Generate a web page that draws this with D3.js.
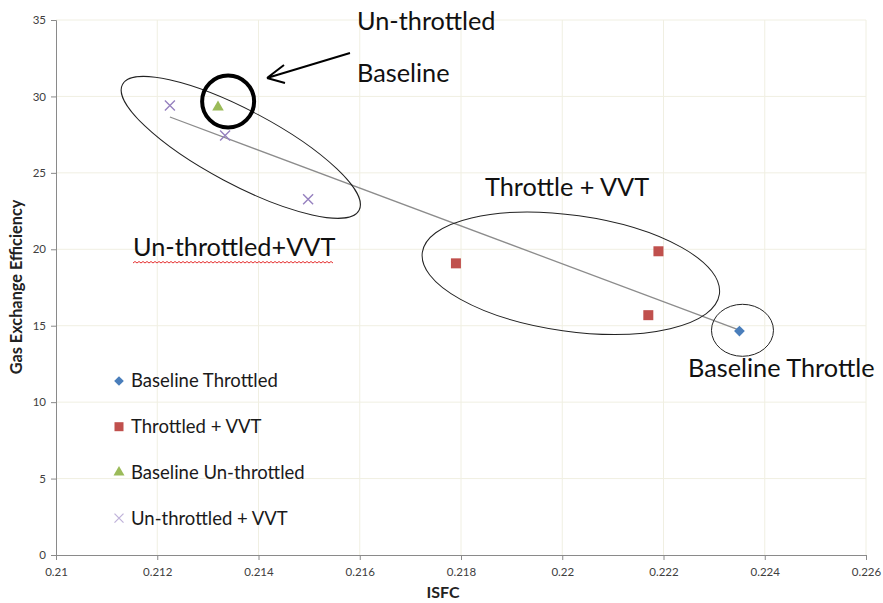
<!DOCTYPE html>
<html>
<head>
<meta charset="utf-8">
<script src="https://cdn.jsdelivr.net/npm/d3@7"></script>
<style>
  body { margin: 0; background: #fff; }
  svg { display: block; font-family: Lato, "Open Sans", sans-serif; }
</style>
</head>
<body>
<div id="chart"></div>
<script>
// chart size
const width = 883;
const height = 603;
const margin = { top: 20, right: 17, bottom: 48, left: 56 };

// data
const seriesNames = ["Baseline Throttled", "Throttled + VVT", "Baseline Un-throttled", "Un-throttled + VVT"];
const baseThrottledX = [0.2235];
const baseThrottledY = [14.65];
const throttledVvtX = [0.2179, 0.2219, 0.2217];
const throttledVvtY = [19.08, 19.87, 15.69];
const baseUnthrottledX = [0.2132];
const baseUnthrottledY = [29.3];
const unthrottledVvtX = [0.21225, 0.21334, 0.21498];
const unthrottledVvtY = [29.4, 27.45, 23.27];

const xTicks = [0.21, 0.212, 0.214, 0.216, 0.218, 0.22, 0.222, 0.224, 0.226];
const yTicks = [0, 5, 10, 15, 20, 25, 30, 35];

const colors = ["#4a7ebb", "#c0504d", "#9bbb59", "#9681bf"];
const shapes = ["diamond", "square", "triangle", "cross"];

const seriesX = [baseThrottledX, throttledVvtX, baseUnthrottledX, unthrottledVvtX];
const seriesY = [baseThrottledY, throttledVvtY, baseUnthrottledY, unthrottledVvtY];

const svg = d3.select("#chart")
  .append("svg")
  .attr("width", width)
  .attr("height", height);

// scales
const x = d3.scaleLinear().domain([0.21, 0.226]).range([margin.left, width - margin.right]);
const y = d3.scaleLinear().domain([0, 35]).range([height - margin.bottom, margin.top]);

// gridlines
svg.append("g")
  .selectAll("line")
  .data(xTicks.slice(1))
  .enter()
  .append("line")
  .attr("x1", d => x(d)).attr("x2", d => x(d))
  .attr("y1", y(0)).attr("y2", y(35))
  .attr("stroke", "#f0efe2")
  .attr("stroke-width", 1);

svg.append("g")
  .selectAll("line")
  .data(yTicks.slice(1))
  .enter()
  .append("line")
  .attr("x1", x(0.21)).attr("x2", x(0.226))
  .attr("y1", d => y(d)).attr("y2", d => y(d))
  .attr("stroke", "#f0efe2")
  .attr("stroke-width", 1);

// axes
const xAxis = svg.append("g")
  .attr("transform", "translate(0," + y(0) + ")")
  .call(d3.axisBottom(x).tickValues(xTicks).tickSize(5).tickFormat(d => d3.format("")(+d.toFixed(3))));

const yAxis = svg.append("g")
  .attr("transform", "translate(" + x(0.21) + ",0)")
  .call(d3.axisLeft(y).tickValues(yTicks).tickSize(5));

[xAxis, yAxis].forEach(a => {
  a.select(".domain").attr("stroke", "#8a8a8a");
  a.selectAll(".tick line").attr("stroke", "#8a8a8a");
  a.selectAll(".tick text")
    .attr("fill", "#404040")
    .style("font-size", "11.5px")
    .style("font-family", "Lato, sans-serif");
});
xAxis.selectAll(".tick text").attr("dy", "1.1em");
yAxis.selectAll(".tick text").attr("x", -10);

// axis titles
svg.append("text")
  .attr("x", 443)
  .attr("y", 598)
  .attr("text-anchor", "middle")
  .style("font-size", "16px")
  .style("font-weight", "bold")
  .attr("fill", "#222")
  .text("ISFC");

svg.append("text")
  .attr("transform", "translate(22,287) rotate(-90)")
  .attr("text-anchor", "middle")
  .style("font-size", "16.3px")
  .style("font-weight", "bold")
  .attr("fill", "#222")
  .text("Gas Exchange Efficiency");

// trendline: least squares over all points
const allX = seriesX.flat();
const allY = seriesY.flat();
const mx = d3.mean(allX);
const my = d3.mean(allY);
const slope = d3.sum(allX, (d, i) => (d - mx) * (allY[i] - my)) / d3.sum(allX, d => (d - mx) * (d - mx));
const x0 = d3.min(allX);
const x1 = d3.max(allX);
svg.append("line")
  .attr("x1", x(x0)).attr("y1", y(my + slope * (x0 - mx)))
  .attr("x2", x(x1)).attr("y2", y(my + slope * (x1 - mx)))
  .attr("stroke", "#8c8c8c")
  .attr("stroke-width", 1.3);

// marker drawing
function marker(g, shape, color, big) {
  const s = big ? 1 : 0.9;
  if (shape === "diamond") {
    g.append("rect").attr("x", -3.8 * s).attr("y", -3.8 * s).attr("width", 7.6 * s).attr("height", 7.6 * s)
      .attr("transform", "rotate(45)").attr("fill", color);
  } else if (shape === "square") {
    g.append("rect").attr("x", -5 * s).attr("y", -5 * s).attr("width", 10 * s).attr("height", 10 * s).attr("fill", color);
  } else if (shape === "triangle") {
    g.append("path").attr("d", d3.symbol(d3.symbolTriangle, 58 * s)).attr("fill", color);
  } else {
    g.append("path").attr("d", "M-5,-5L5,5M-5,5L5,-5").attr("stroke", color).attr("stroke-width", 1.4).attr("fill", "none")
      .attr("transform", "scale(" + s + ")");
  }
}

// points
seriesX.forEach((xs, si) => {
  xs.forEach((xv, i) => {
    const g = svg.append("g").attr("transform", "translate(" + x(xv) + "," + y(seriesY[si][i]) + ")");
    marker(g, shapes[si], colors[si], true);
  });
});

// legend inside plot
const legend = svg.selectAll(".legend")
  .data(seriesNames)
  .enter()
  .append("g")
  .attr("class", "legend")
  .attr("transform", (d, i) => "translate(119," + (381 + i * 45.7) + ")");

legend.each(function(d, i) {
  marker(d3.select(this), shapes[i], i === 3 ? "#c0b3da" : colors[i], false);
});

legend.append("text")
  .attr("x", 12)
  .attr("y", 0)
  .attr("dy", ".35em")
  .style("font-size", "18.5px")
  .attr("fill", "#1a1a1a")
  .text(d => d);

// ellipses around groups
const ellipses = [
  { cx: 0.21365, cy: 26.67, rx: 134, ry: 37, rot: 28 },
  { cx: 0.22017, cy: 18.43, rx: 150, ry: 58, rot: 8 },
  { cx: 0.22356, cy: 14.7, rx: 31, ry: 26, rot: 0 }
];
svg.selectAll(".grp")
  .data(ellipses)
  .enter()
  .append("ellipse")
  .attr("class", "grp")
  .attr("transform", d => "translate(" + x(d.cx) + "," + y(d.cy) + ") rotate(" + d.rot + ")")
  .attr("rx", d => d.rx)
  .attr("ry", d => d.ry)
  .attr("fill", "none")
  .attr("stroke", "#222")
  .attr("stroke-width", 1);

// bold circle on baseline un-throttled
svg.append("circle")
  .attr("cx", x(0.2134))
  .attr("cy", y(29.67))
  .attr("r", 26)
  .attr("fill", "none")
  .attr("stroke", "#000")
  .attr("stroke-width", 4);

// arrow
svg.append("path")
  .attr("d", "M350,53L267,78M267,78L284,65M267,78L285,83")
  .attr("fill", "none")
  .attr("stroke", "#000")
  .attr("stroke-width", 2);

// annotation labels
const notes = [
  { t: "Un-throttled", x: 357, y: 30 },
  { t: "Baseline", x: 357, y: 82 },
  { t: "Throttle + VVT", x: 485, y: 196 },
  { t: "Un-throttled+VVT", x: 133, y: 256 },
  { t: "Baseline Throttle", x: 688, y: 377 }
];
svg.selectAll(".note")
  .data(notes)
  .enter()
  .append("text")
  .attr("class", "note")
  .attr("x", d => d.x)
  .attr("y", d => d.y)
  .style("font-size", "25.3px")
  .attr("fill", "#111")
  .text(d => d.t);

// red spell-check squiggle
let sq = "M133,263";
for (let i = 0; i < 100; i++) {
  sq += "L" + (135 + i * 2) + "," + (i % 2 ? 263 : 261.5);
}
svg.append("path")
  .attr("d", sq)
  .attr("fill", "none")
  .attr("stroke", "#e53030")
  .attr("stroke-width", 1);
</script>
</body>
</html>
